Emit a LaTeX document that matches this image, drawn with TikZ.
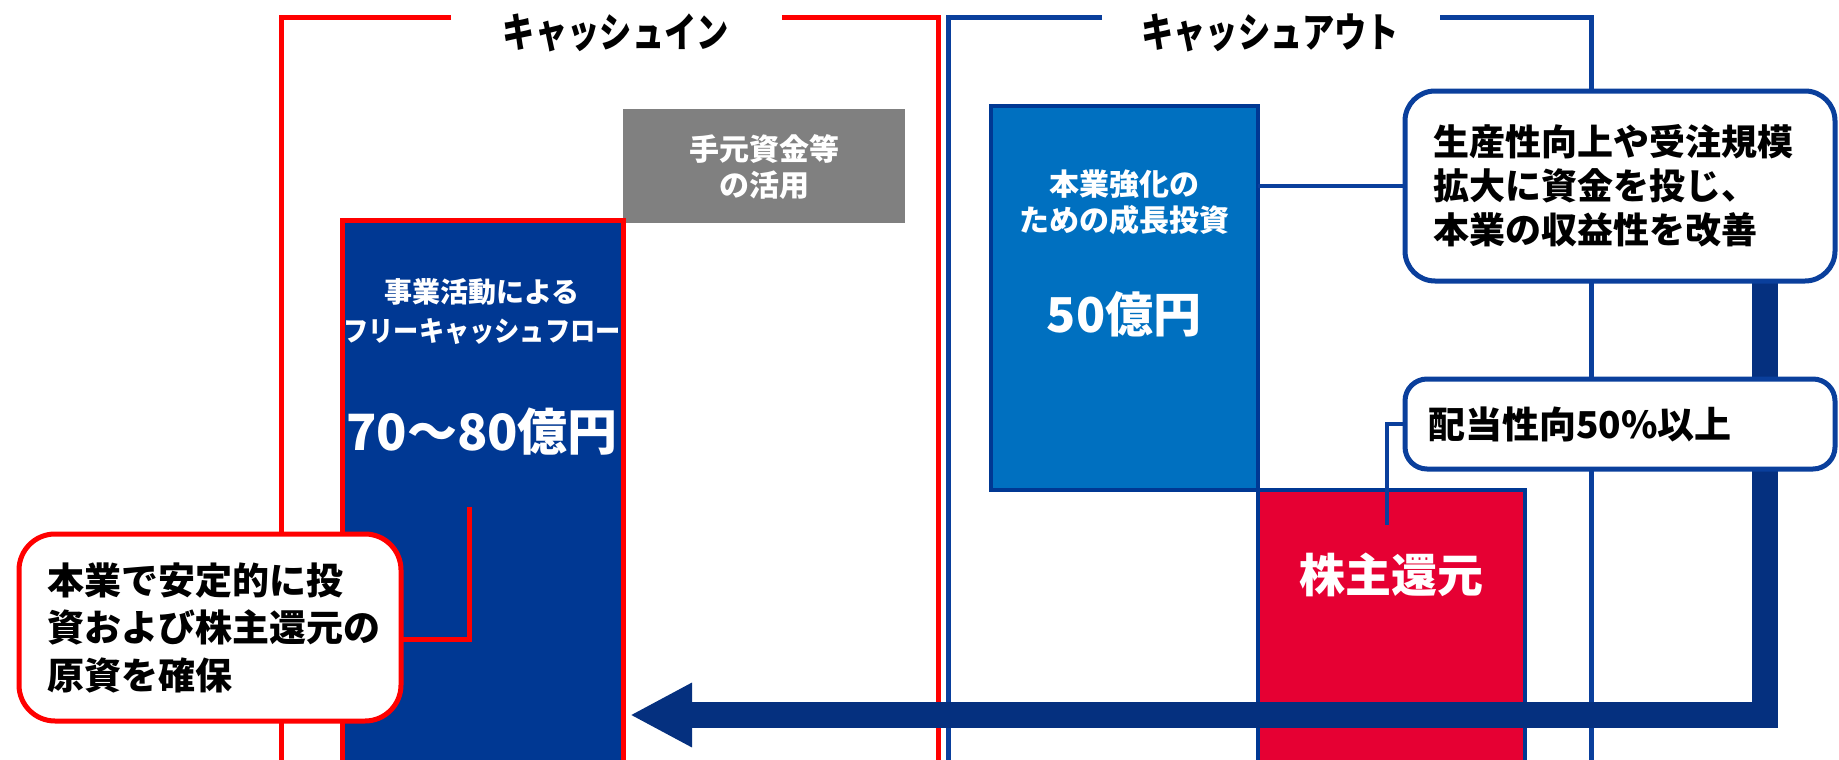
\documentclass[tikz,border=0pt]{standalone}
\usepackage{fontspec}
\usepackage{graphicx}
\setmainfont{Noto Sans CJK JP}
\usetikzlibrary{arrows.meta}
\definecolor{cRed}{HTML}{FF0000}
\definecolor{cNavy}{HTML}{003893}
\definecolor{cFrame}{HTML}{0A3F9C}
\definecolor{cBlue}{HTML}{0070C0}
\definecolor{cCrim}{HTML}{E60033}
\definecolor{cGray}{HTML}{808080}
\definecolor{cArrow}{HTML}{05307F}
\newcommand{\fs}[2]{\fontsize{#1}{#2}\selectfont\bfseries}
\begin{document}
\begin{tikzpicture}[x=1pt,y=-1pt,
  redframe/.style={draw=cRed,line width=5},
  blueframe/.style={draw=cFrame,line width=5},
  box/.style={anchor=north west,inner sep=0,outer sep=0},
  callout/.style={box,draw,fill=white,line width=5,rounded corners=30,align=left,text=black},
  wtext/.style={text=white,align=center,inner sep=0},
  title/.style={text=black,inner sep=0,font=\fs{34}{40}},
  bigarrow/.style={draw=cArrow,line width=26,-{Triangle[length=62,width=60]}}
]
\useasboundingbox (0,0) rectangle (1839,760);
\clip (0,0) rectangle (1839,760);
\fill[white] (0,0) rectangle (1839,760);

% frames
\draw[redframe] (451,18) -| (281,790);
\draw[redframe] (782,18) -| (938,790);
\draw[blueframe] (1102,18) -| (948,790);
\draw[blueframe] (1440,18) -| (1591,790);
\node[title] (tin) at (616,33) {\scalebox{0.95}[1.2]{キャッシュイン}};
\node[title] (tout) at (1270,33) {\scalebox{0.95}[1.2]{キャッシュアウト}};

% boxes
\node[box,fill=cGray,minimum width=282,minimum height=114] (gray) at (623,109) {};
\node[box,fill=cNavy,draw=cRed,line width=5,minimum width=281,minimum height=580] (fcf) at (342,220) {};
\node[box,fill=cBlue,draw=cNavy,line width=4,minimum width=267,minimum height=384] (grow) at (991,106) {};
\node[box,fill=cCrim,draw=cNavy,line width=4,minimum width=267,minimum height=300] (ret) at (1258,490) {};

% big arrow
\coordinate (atip) at (630,715);
\draw[bigarrow] (1765,260) |- (atip);

% connectors
\coordinate (fcend) at (469,507);
\coordinate (divend) at (1387,525);

% callouts
\node[callout,draw=cRed,rounded corners=36,minimum width=382,minimum height=187,text width=326,font=\fs{37}{47.5}] (fc) at (19,534)
  {本業で安定的に投\\資および株主還元の\\原資を確保};
\node[callout,draw=cFrame,minimum width=430,minimum height=190,text width=374,font=\fs{36}{44}] (tr) at (1405,91)
  {生産性向上や受注規模\\拡大に資金を投じ、\\本業の収益性を改善};
\node[callout,draw=cFrame,rounded corners=22,minimum width=430,minimum height=90,text width=384,font=\fs{37}{44}] (div) at (1405,379)
  {配当性向50\%以上};

\draw[cRed,line width=5] (fc.east |- 0,639) -| (fcend);
\draw[cFrame,line width=4] (tr.west) -- (tr.west -| grow.east);
\draw[cFrame,line width=4] (div.west) -| (divend);

% texts
\node[wtext,font=\fs{30}{36}] (tgray) at (764,167) {手元資金等\\の活用};
\node[wtext,font=\fs{28}{39}] (tfcf) at (482,312) {事業活動による\\\scalebox{0.9}[1]{フリーキャッシュフロー}};
\node[wtext,font=\fs{50}{56}] (vfcf) at (482,432) {70〜80億円};
\node[wtext,font=\fs{30}{36}] (tgrow) at (1124,202) {本業強化の\\ための成長投資};
\node[wtext,font=\fs{48}{56}] (vgrow) at (1124,314) {50億円};
\node[wtext,font=\fs{46}{52}] (tret) at (1391,575) {株主還元};
\end{tikzpicture}
\end{document}
